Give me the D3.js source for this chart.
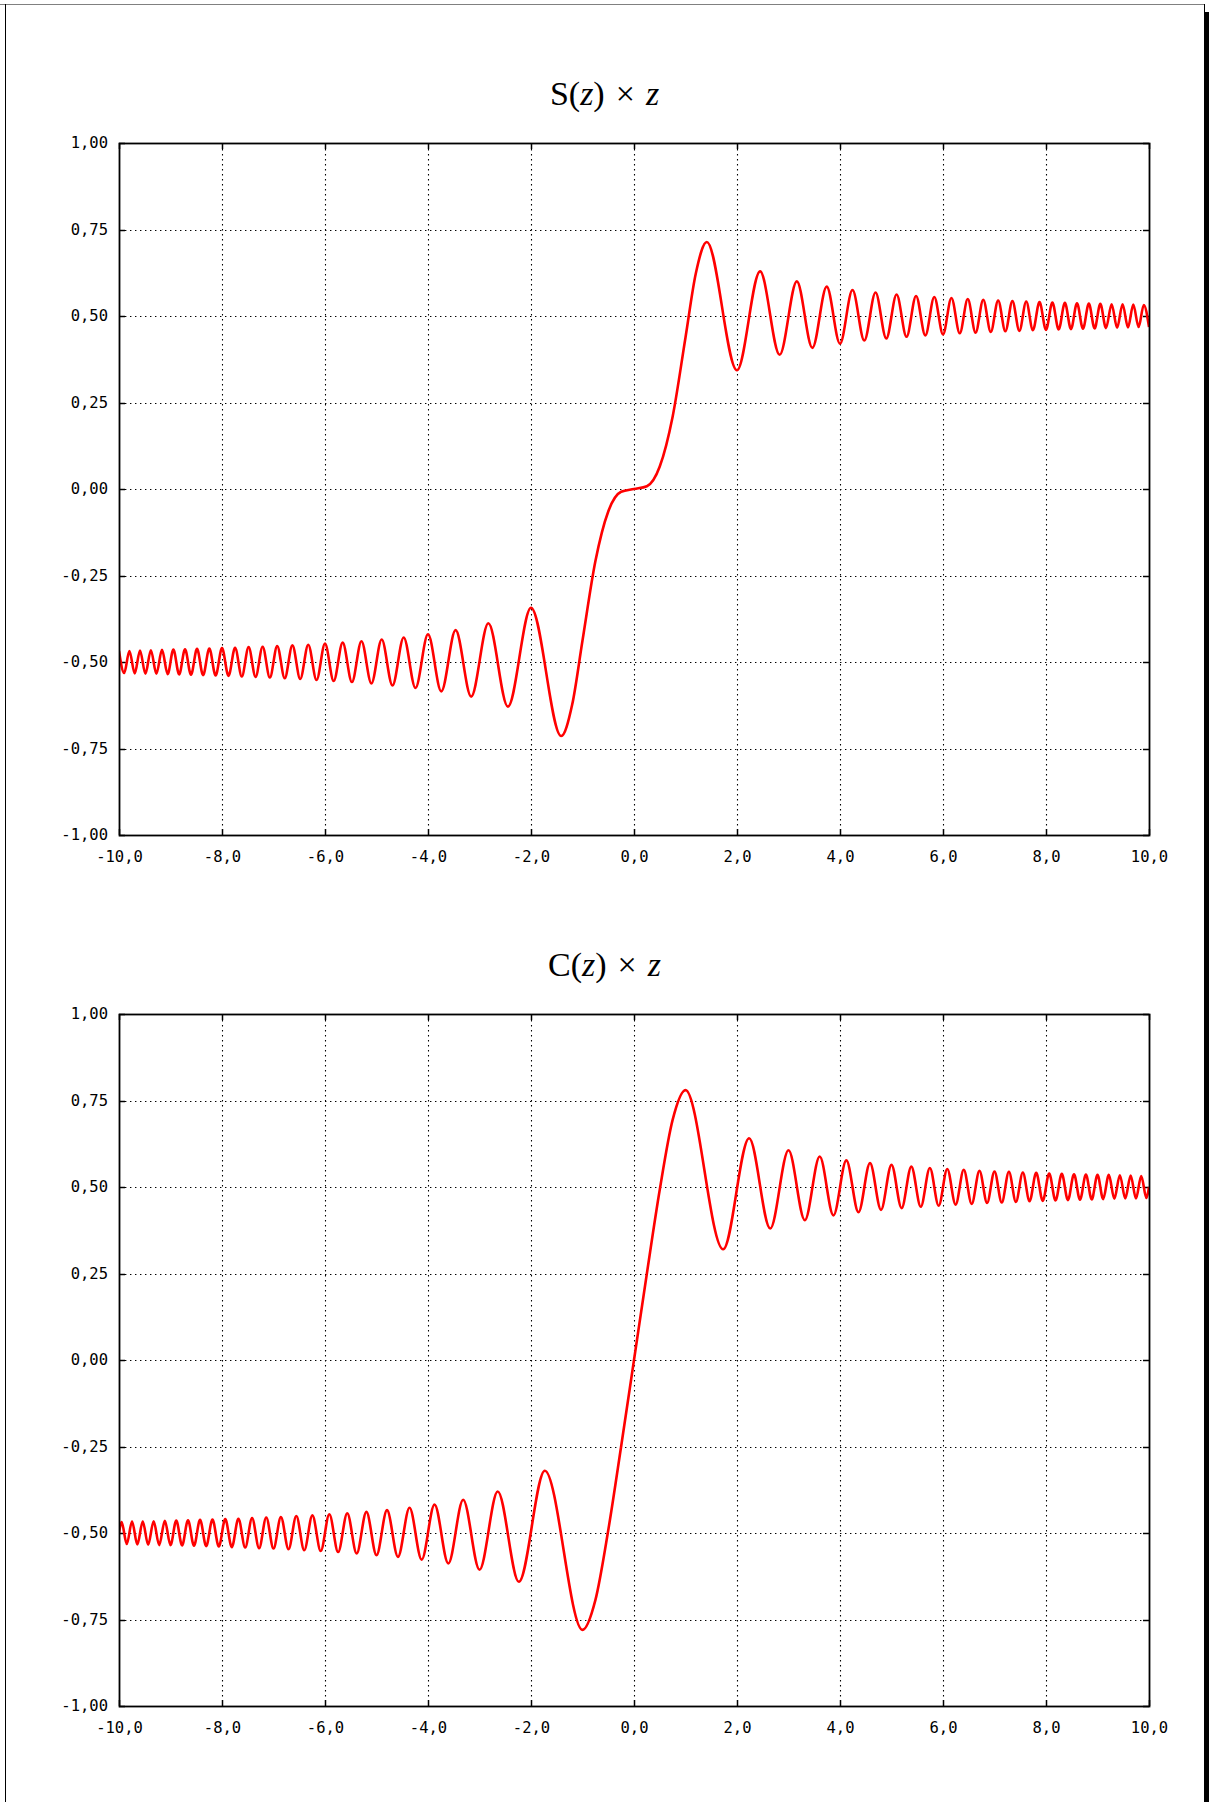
<!DOCTYPE html>
<html>
<head>
<meta charset="utf-8">
<script src="https://cdn.jsdelivr.net/npm/d3@7"></script>
<style>
  body { margin: 0; background: #fff; }
  svg { display: block; }
</style>
</head>
<body>
<svg id="fig" width="1209" height="1802"></svg>
<script>
// Tick values for both panels
const xTicks = [-10, -8, -6, -4, -2, 0, 2, 4, 6, 8, 10];
const yTicks = [-1, -0.75, -0.5, -0.25, 0, 0.25, 0.5, 0.75, 1];

// Fresnel sine integral S(z): turning points plus the rise through the origin, [z, S]
const sCurve = [
  [-10.000,-0.468],[-9.899,-0.532],[-9.798,-0.468],[-9.695,-0.533],[-9.592,-0.467],[-9.487,-0.534],
  [-9.381,-0.466],[-9.274,-0.534],[-9.165,-0.465],[-9.055,-0.535],[-8.944,-0.464],[-8.832,-0.536],
  [-8.718,-0.463],[-8.602,-0.537],[-8.485,-0.462],[-8.367,-0.538],[-8.246,-0.461],[-8.124,-0.539],
  [-8.000,-0.460],[-7.874,-0.540],[-7.746,-0.459],[-7.616,-0.542],[-7.483,-0.457],[-7.348,-0.543],
  [-7.211,-0.456],[-7.071,-0.545],[-6.928,-0.454],[-6.782,-0.547],[-6.633,-0.452],[-6.481,-0.549],
  [-6.325,-0.450],[-6.164,-0.552],[-6.000,-0.447],[-5.831,-0.555],[-5.657,-0.444],[-5.477,-0.558],
  [-5.292,-0.440],[-5.099,-0.562],[-4.899,-0.435],[-4.690,-0.568],[-4.472,-0.429],[-4.243,-0.575],
  [-4.000,-0.420],[-3.742,-0.585],[-3.464,-0.408],[-3.162,-0.600],[-2.828,-0.388],[-2.449,-0.629],
  [-2.000,-0.343],[-1.414,-0.714],[-1.200,-0.623],[-1.000,-0.438],[-0.750,-0.209],
  [-0.500,-0.065],[-0.250,-0.008],
  [0.000,0.000],
  [0.250,0.008],[0.500,0.065],[0.750,0.209],[1.000,0.438],[1.200,0.623],[1.414,0.714],
  [2.000,0.343],[2.449,0.629],[2.828,0.388],[3.162,0.600],[3.464,0.408],
  [3.742,0.585],[4.000,0.420],[4.243,0.575],[4.472,0.429],[4.690,0.568],[4.899,0.435],
  [5.099,0.562],[5.292,0.440],[5.477,0.558],[5.657,0.444],[5.831,0.555],[6.000,0.447],
  [6.164,0.552],[6.325,0.450],[6.481,0.549],[6.633,0.452],[6.782,0.547],[6.928,0.454],
  [7.071,0.545],[7.211,0.456],[7.348,0.543],[7.483,0.457],[7.616,0.542],[7.746,0.459],
  [7.874,0.540],[8.000,0.460],[8.124,0.539],[8.246,0.461],[8.367,0.538],[8.485,0.462],
  [8.602,0.537],[8.718,0.463],[8.832,0.536],[8.944,0.464],[9.055,0.535],[9.165,0.465],
  [9.274,0.534],[9.381,0.466],[9.487,0.534],[9.592,0.467],[9.695,0.533],[9.798,0.468],
  [9.899,0.532],[10.000,0.468]
];

// Fresnel cosine integral C(z): turning points plus the rise through the origin, [z, C]
const cCurve = [
  [-10.000,-0.500],[-9.950,-0.468],[-9.849,-0.532],[-9.747,-0.467],[-9.644,-0.533],[-9.539,-0.467],
  [-9.434,-0.534],[-9.327,-0.466],[-9.220,-0.535],[-9.110,-0.465],[-9.000,-0.535],[-8.888,-0.464],
  [-8.775,-0.536],[-8.660,-0.463],[-8.544,-0.537],[-8.426,-0.462],[-8.307,-0.538],[-8.185,-0.461],
  [-8.062,-0.539],[-7.937,-0.460],[-7.810,-0.541],[-7.681,-0.459],[-7.550,-0.542],[-7.416,-0.457],
  [-7.280,-0.544],[-7.141,-0.455],[-7.000,-0.545],[-6.856,-0.454],[-6.708,-0.547],[-6.557,-0.451],
  [-6.403,-0.550],[-6.245,-0.449],[-6.083,-0.552],[-5.916,-0.446],[-5.745,-0.555],[-5.568,-0.443],
  [-5.385,-0.559],[-5.196,-0.439],[-5.000,-0.564],[-4.796,-0.434],[-4.583,-0.569],[-4.359,-0.427],
  [-4.123,-0.577],[-3.873,-0.418],[-3.606,-0.588],[-3.317,-0.404],[-3.000,-0.606],[-2.646,-0.380],
  [-2.236,-0.641],[-1.732,-0.320],[-1.000,-0.780],[-0.750,-0.694],[-0.500,-0.492],
  [-0.250,-0.250],
  [0.000,0.000],
  [0.250,0.250],[0.500,0.492],[0.750,0.694],[1.000,0.780],[1.732,0.320],
  [2.236,0.641],[2.646,0.380],[3.000,0.606],[3.317,0.404],[3.606,0.588],[3.873,0.418],
  [4.123,0.577],[4.359,0.427],[4.583,0.569],[4.796,0.434],[5.000,0.564],[5.196,0.439],
  [5.385,0.559],[5.568,0.443],[5.745,0.555],[5.916,0.446],[6.083,0.552],[6.245,0.449],
  [6.403,0.550],[6.557,0.451],[6.708,0.547],[6.856,0.454],[7.000,0.545],[7.141,0.455],
  [7.280,0.544],[7.416,0.457],[7.550,0.542],[7.681,0.459],[7.810,0.541],[7.937,0.460],
  [8.062,0.539],[8.185,0.461],[8.307,0.538],[8.426,0.462],[8.544,0.537],[8.660,0.463],
  [8.775,0.536],[8.888,0.464],[9.000,0.535],[9.110,0.465],[9.220,0.535],[9.327,0.466],
  [9.434,0.534],[9.539,0.467],[9.644,0.533],[9.747,0.467],[9.849,0.532],[9.950,0.468],
  [10.000,0.500]
];

const panelNames = ["S", "C"];
const panelCurves = [sCurve, cCurve];

// ---- layout ----
const W = 1209, H = 1802;
const plotLeft = 119, plotRight = 1149, plotH = 692;
const panelTops = [143, 1014];
const tickLen = 6;

const svg = d3.select("#fig");

// decimal comma, plain hyphen minus
const locale = d3.formatLocale({ decimal: ",", thousands: ".", grouping: [3], currency: ["", ""], minus: "-" });
const fmtX = locale.format(".1f");
const fmtY = locale.format(".2f");

// page frame with a shadow on the right edge
svg.append("line").attr("x1", 0).attr("x2", 1205).attr("y1", 4.5).attr("y2", 4.5)
  .attr("stroke", "#808080").attr("stroke-width", 1.2);
svg.append("line").attr("x1", 5.5).attr("x2", 5.5).attr("y1", 4).attr("y2", H)
  .attr("stroke", "#000").attr("stroke-width", 1);
svg.append("line").attr("x1", 1204.5).attr("x2", 1204.5).attr("y1", 4).attr("y2", 12)
  .attr("stroke", "#000").attr("stroke-width", 1);
svg.append("rect").attr("x", 1204).attr("y", 12).attr("width", 5).attr("height", H - 12).attr("fill", "#000");

const x = d3.scaleLinear().domain([-10, 10]).range([plotLeft, plotRight]);

panelNames.forEach((name, i) => {
  const top = panelTops[i];
  const bottom = top + plotH;
  const y = d3.scaleLinear().domain([-1, 1]).range([bottom, top]);
  const g = svg.append("g");

  // title: N(z) × z
  const title = g.append("text")
    .attr("x", W / 2).attr("y", top - 38)
    .attr("text-anchor", "middle")
    .attr("font-family", "'Liberation Serif', 'DejaVu Serif', serif")
    .attr("font-size", 34).attr("fill", "#000");
  title.append("tspan").text(name + "(");
  title.append("tspan").attr("font-style", "italic").text("z");
  title.append("tspan").text(")");
  title.append("tspan").attr("dx", 11).text("\u00d7");
  title.append("tspan").attr("dx", 11).attr("font-style", "italic").text("z");

  // dotted grid
  const grid = g.append("g").attr("stroke", "#000").attr("stroke-width", 1.1)
    .attr("stroke-dasharray", "1.4,3.6");
  grid.selectAll(".gx").data(xTicks.filter(t => t > -10 && t < 10)).join("line")
    .attr("x1", d => Math.round(x(d)) + 0.5).attr("x2", d => Math.round(x(d)) + 0.5)
    .attr("y1", top + tickLen).attr("y2", bottom - tickLen);
  grid.selectAll(".gy").data(yTicks.filter(t => t > -1 && t < 1)).join("line")
    .attr("y1", d => Math.round(y(d)) + 0.5).attr("y2", d => Math.round(y(d)) + 0.5)
    .attr("x1", plotLeft + tickLen).attr("x2", plotRight - tickLen);

  // inward ticks on all four sides
  const ticks = g.append("g").attr("stroke", "#000").attr("stroke-width", 1.5);
  xTicks.forEach(t => {
    const px = Math.round(x(t)) + 0.5;
    ticks.append("line").attr("x1", px).attr("x2", px).attr("y1", bottom).attr("y2", bottom - tickLen);
    ticks.append("line").attr("x1", px).attr("x2", px).attr("y1", top).attr("y2", top + tickLen);
  });
  yTicks.forEach(t => {
    const py = Math.round(y(t)) + 0.5;
    ticks.append("line").attr("y1", py).attr("y2", py).attr("x1", plotLeft).attr("x2", plotLeft + tickLen);
    ticks.append("line").attr("y1", py).attr("y2", py).attr("x1", plotRight).attr("x2", plotRight - tickLen);
  });

  // tick labels via d3 axes (no axis lines)
  const axX = g.append("g").attr("transform", `translate(0,${bottom})`)
    .call(d3.axisBottom(x).tickValues(xTicks).tickFormat(fmtX).tickSize(0).tickPadding(16));
  const axY = g.append("g").attr("transform", `translate(${plotLeft},0)`)
    .call(d3.axisLeft(y).tickValues(yTicks).tickFormat(fmtY).tickSize(0).tickPadding(11));
  [axX, axY].forEach(a => {
    a.select(".domain").remove();
    a.selectAll("text").attr("font-family", "'DejaVu Sans Mono', monospace")
      .attr("font-size", 15.5).attr("fill", "#000");
  });

  // curve
  const clipId = "clip" + i;
  g.append("clipPath").attr("id", clipId).append("rect")
    .attr("x", plotLeft).attr("y", top).attr("width", plotRight - plotLeft).attr("height", plotH);
  const line = d3.line().x(d => x(d[0])).y(d => y(d[1])).curve(d3.curveMonotoneX);
  g.append("path").datum(panelCurves[i])
    .attr("clip-path", `url(#${clipId})`)
    .attr("fill", "none").attr("stroke", "#ff0000").attr("stroke-width", 2.6)
    .attr("stroke-linejoin", "round")
    .attr("d", line);

  // plot border
  g.append("rect").attr("x", plotLeft + 0.5).attr("y", top + 0.5)
    .attr("width", plotRight - plotLeft).attr("height", plotH)
    .attr("fill", "none").attr("stroke", "#000").attr("stroke-width", 1.8);
});
</script>
</body>
</html>
